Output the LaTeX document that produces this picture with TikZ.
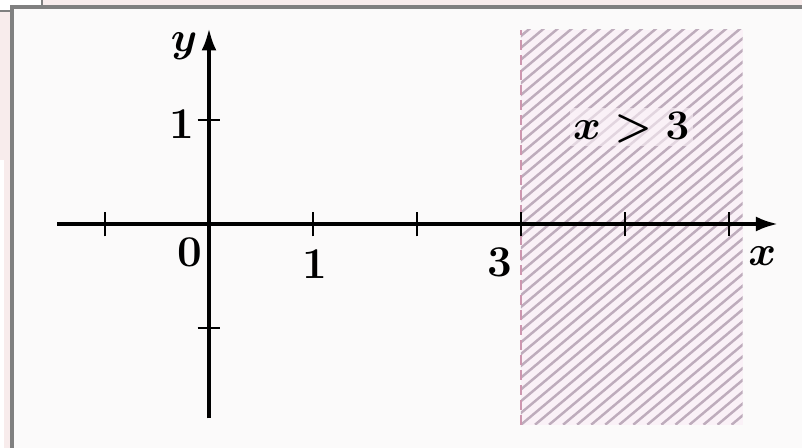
\documentclass[tikz,border=0pt]{standalone}
\usepackage{tikz}
\usetikzlibrary{arrows.meta}
\definecolor{cadreC}{RGB}{128,128,128}
\definecolor{roseC}{RGB}{248,236,236}
\definecolor{fondC}{RGB}{251,250,250}
\definecolor{zoneC}{RGB}{250,241,247}
\definecolor{hachC}{RGB}{190,172,188}
\definecolor{tiretC}{RGB}{205,150,175}
\tikzset{
  axe/.style={-{Latex[length=2.2mm,width=1.5mm]}, line width=1pt},
  grad/.style={line width=0.8pt},
  etiq/.style={font=\fontsize{12.5}{14}\selectfont\bfseries\boldmath, inner sep=0pt},
  etiqzone/.style={font=\fontsize{13}{15}\selectfont\bfseries\boldmath, inner sep=1pt,
                   fill=zoneC, fill opacity=0.6, text opacity=1},
  hachure/.style={draw=hachC, line width=0.7pt},
  bord/.style={draw=tiretC, line width=0.8pt, dash pattern=on 1mm off 0.5mm},
}
\begin{document}
\begin{tikzpicture}[x=1.04cm,y=1.04cm]
\useasboundingbox (-2.09cm,-2.24cm) rectangle (5.93cm,2.24cm);
% cadre de la capture
\begin{scope}[x=0.01cm,y=-0.01cm,shift={(-2.09cm,2.24cm)}]
\fill[roseC] (0,0) rectangle (802,448);
\fill[white] (0,0) rectangle (42,11);
\fill[white] (0,160) rectangle (4,448);
\fill[fondC] (12,7) rectangle (802,448);
\draw[cadreC, line width=1.2pt] (12,448) -- (12,7) -- (802,7);
\draw[cadreC, line width=0.8pt] (42,0) -- (42,7) (0,11) -- (12,11);
\end{scope}
% zone x > 3
\fill[zoneC] (3,-1.93) rectangle (5.13,1.87);
\begin{scope}
\clip (3,-1.93) rectangle (5.13,1.87);
\foreach \k in {-36,...,16}
  \draw[hachure] (3+\k*0.135,-1.93) -- ++(40:6.5);
\end{scope}
\draw[bord] (3,-1.93) -- (3,1.87);
% axes
\coordinate (xdeb) at (-1.46,0);
\coordinate (xfin) at (5.47,0);
\coordinate (ydeb) at (0,-1.87);
\coordinate (yfin) at (0,1.88);
\draw[axe] (xdeb) -- (xfin);
\draw[axe] (ydeb) -- (yfin);
\foreach \i in {-1,1,2,3,4,5}
  \draw[grad] (\i,-0.12) -- (\i,0.12);
\foreach \j in {-1,1}
  \draw[grad] (-0.11,\j) -- (0.11,\j);
% etiquettes
\node[etiq] (ly) at (-0.24,1.71) {$y$};
\node[etiq] (ly1) at (-0.26,0.96) {1};
\node[etiq] (lo) at (-0.18,-0.27) {0};
\node[etiq] (lx1) at (1.02,-0.385) {1};
\node[etiq] (lx3) at (2.80,-0.37) {3};
\node[etiq] (lx) at (5.32,-0.31) {$x$};
\node[etiqzone] (lzone) at (4.06,0.93) {$x\;{>}\;3$};
\end{tikzpicture}
\end{document}
